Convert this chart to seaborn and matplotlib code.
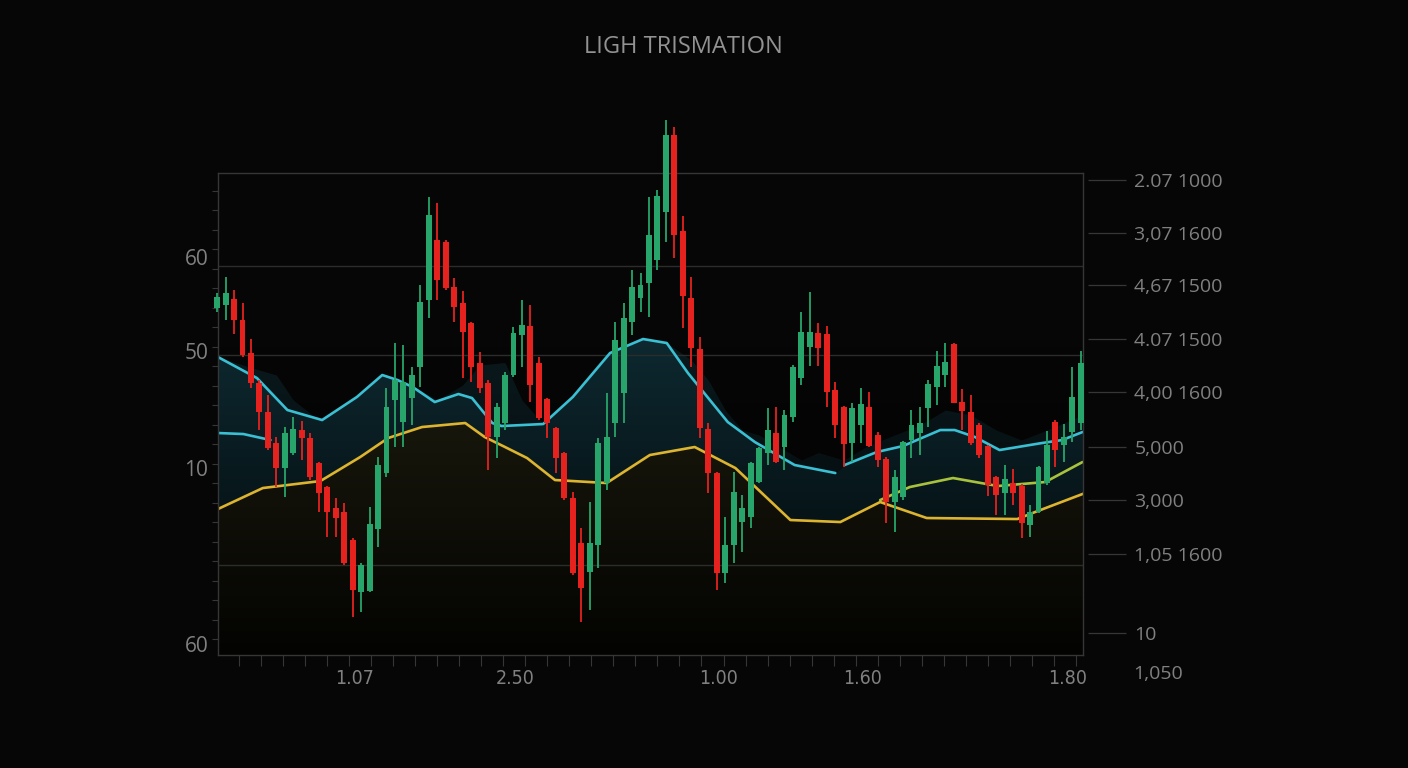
import numpy as np
import pandas as pd
import matplotlib
matplotlib.use("Agg")
import matplotlib.pyplot as plt
import seaborn as sns

# ── candle data (price units) ───────────────────────────────────
opens = [78.4, 79.0, 80.2, 76.0, 69.4, 63.4, 57.6, 51.4, 46.4, 49.4,
         54.0, 52.4, 47.4, 42.6, 38.4, 37.6, 32.0, 21.6, 21.8, 34.2,
         45.4, 60.0, 55.6, 60.4, 66.6, 80.0, 92.0, 91.6, 82.6, 79.4,
         75.4, 67.4, 63.4, 52.6, 55.4, 65.0, 73.0, 74.8, 67.4, 60.2,
         54.4, 49.4, 40.4, 31.4, 25.6, 31.0, 43.4, 55.4, 61.4, 75.6,
         80.4, 83.4, 88.0, 97.6, 113.0, 93.8, 80.4, 70.2, 54.2, 45.4,
         25.4, 31.0, 35.6, 36.6, 43.6, 49.4, 53.4, 50.6, 56.6, 64.4,
         70.6, 73.4, 73.2, 62.0, 58.6, 51.4, 55.0, 58.6, 53.0, 48.2,
         39.6, 40.6, 52.0, 53.4, 58.4, 62.6, 65.0, 71.2, 59.6, 57.6,
         55.0, 50.8, 44.6, 41.4, 43.4, 42.8, 35.0, 37.6, 43.4, 55.6,
         51.0, 53.6, 55.4]
closes = [80.6, 81.4, 76.0, 69.0, 63.4, 57.6, 50.4, 46.4, 53.4, 54.2,
          52.4, 44.6, 41.4, 37.6, 36.4, 27.4, 22.0, 27.0, 35.2, 47.0,
          58.6, 64.0, 63.6, 65.0, 79.6, 97.0, 84.0, 82.4, 78.6, 73.6,
          66.6, 62.4, 52.6, 58.6, 65.0, 73.4, 75.0, 63.0, 56.4, 55.4,
          48.4, 40.4, 25.4, 22.4, 31.4, 51.4, 52.6, 72.0, 76.4, 82.6,
          83.0, 93.0, 100.8, 113.0, 93.0, 80.8, 70.4, 54.4, 45.4, 25.4,
          31.0, 41.6, 38.4, 47.4, 50.4, 54.0, 47.6, 57.0, 66.6, 73.6,
          73.6, 70.4, 61.6, 55.0, 51.2, 58.4, 59.2, 50.8, 48.0, 39.6,
          44.6, 51.6, 55.0, 55.4, 63.2, 66.8, 67.6, 59.4, 57.8, 51.4,
          49.0, 43.0, 41.0, 44.2, 41.4, 35.4, 37.6, 46.6, 51.0, 50.0,
          52.6, 60.6, 67.4]
highs = [81.4, 84.6, 82.0, 79.4, 72.2, 64.0, 61.0, 52.6, 54.6, 56.6,
         55.8, 53.4, 47.6, 42.8, 40.4, 39.4, 32.4, 27.4, 38.6, 48.6,
         62.4, 71.4, 71.0, 66.6, 83.0, 100.6, 99.4, 92.0, 84.4, 81.8,
         75.6, 69.6, 64.0, 59.4, 65.6, 74.6, 80.0, 79.0, 68.6, 60.4,
         54.6, 49.6, 41.6, 34.4, 39.6, 52.4, 61.4, 75.6, 79.4, 86.0,
         85.4, 100.6, 102.0, 116.0, 114.6, 96.8, 84.6, 72.6, 55.4, 45.6,
         36.6, 45.6, 41.0, 47.6, 50.6, 58.4, 58.6, 58.0, 67.0, 77.6,
         81.6, 75.4, 74.8, 63.6, 58.8, 59.4, 62.4, 61.6, 53.6, 48.6,
         46.0, 51.8, 58.0, 58.6, 64.0, 69.8, 71.4, 71.4, 62.2, 61.0,
         55.4, 51.0, 44.8, 47.0, 46.2, 43.2, 39.0, 46.8, 53.8, 56.0,
         55.2, 66.6, 69.8]
lows = [77.6, 76.0, 73.2, 68.6, 62.4, 54.0, 50.0, 42.6, 40.6, 49.0,
        48.0, 44.0, 37.6, 32.6, 32.6, 27.0, 16.6, 17.6, 21.6, 30.6,
        44.6, 50.6, 50.6, 55.0, 62.6, 76.4, 80.0, 82.0, 75.6, 64.4,
        63.6, 61.4, 46.0, 48.4, 54.0, 64.6, 66.6, 59.6, 56.0, 52.4,
        45.4, 40.0, 25.0, 15.6, 18.0, 26.4, 42.0, 52.6, 55.4, 73.0,
        77.6, 76.6, 86.0, 91.6, 88.4, 74.4, 66.6, 52.4, 41.4, 22.0,
        23.4, 27.4, 29.6, 34.4, 43.4, 47.0, 47.4, 46.0, 55.6, 63.0,
        66.8, 66.8, 58.6, 52.4, 46.6, 47.6, 51.4, 50.6, 46.6, 35.4,
        33.6, 40.0, 48.4, 49.0, 54.6, 59.0, 62.6, 59.4, 54.0, 51.0,
        48.4, 40.8, 37.0, 37.0, 39.0, 32.4, 32.6, 37.4, 43.0, 46.6,
        47.6, 51.6, 54.0]

# ── overlay lines (candle index, price) ─────────────────────────
cyan_a_x = [0.1, 4.7, 8.3, 12.4, 16.5, 19.5, 21.3, 23.1, 25.7, 28.5, 30.1, 32.5,
            33.6, 38.5, 42.0, 46.4, 50.3, 53.1, 55.6, 60.3, 63.5, 68.2, 73.0]
cyan_a_y = [68.6, 64.4, 58.0, 56.0, 60.6, 65.0, 64.0, 62.6, 59.6, 61.2, 60.4, 55.4,
            54.8, 55.2, 60.6, 69.4, 72.2, 71.4, 65.4, 55.6, 51.6, 47.0, 45.4]
cyan_b_x = [74.1, 77.9, 81.0, 85.4, 87.1, 89.5, 92.4, 97.4, 99.8, 102.2]
cyan_b_y = [47.0, 49.6, 50.8, 54.0, 54.0, 52.6, 50.0, 51.4, 52.0, 53.6]
cyan_low_x = [0.1, 3.1, 6.3]
cyan_low_y = [53.4, 53.2, 52.0]

yellow_x = [0.1, 5.4, 12.2, 16.9, 20.2, 24.2, 29.3, 31.6, 34.0, 36.6, 39.9, 46.0,
            51.1, 56.4, 61.2, 67.7, 73.6, 78.3, 83.8, 94.5, 96.6, 102.5]
yellow_y = [38.2, 42.4, 43.8, 48.6, 52.4, 54.6, 55.4, 52.6, 50.6, 48.4, 44.0, 43.4,
            49.0, 50.6, 46.4, 36.0, 35.6, 39.6, 36.4, 36.2, 37.6, 41.4]

olive_x = [78.3, 81.8, 86.9, 92.2, 97.8, 102.2]
olive_y = [40.0, 42.6, 44.4, 42.8, 43.6, 47.6]

# soft teal glow above the cyan band
cloud_x = [0.1, 4, 7, 9, 12, 16.5, 19.5, 23, 26, 29, 31, 34, 36, 38.5, 42, 46.4,
           50.3, 53.1, 56, 58, 60, 62, 64, 67, 69, 71, 73, 74, 77, 80, 83, 86,
           89, 92, 95, 98, 102.2]
cloud_y = [68.6, 66.5, 65.0, 60.0, 56.0, 60.6, 65.0, 63.0, 60.0, 63.0, 67.0, 67.5,
           60.0, 55.2, 60.6, 69.4, 72.2, 71.4, 68.0, 64.0, 58.0, 54.0, 53.0, 50.0,
           48.0, 49.5, 48.5, 48.0, 51.0, 53.0, 55.0, 58.0, 57.0, 54.0, 52.0, 54.0,
           57.0]

grid_levels = [86.8, 69.0, 27.0]
left_ticks = [88.6, 69.8, 46.4, 11.2]
left_labels = ["60", "50", "10", "60"]
right_ticks = [104.0, 93.4, 83.0, 72.2, 61.6, 50.6, 40.0, 29.2, 13.4]
right_labels = ["2.07 1000", "3,07 1600", "4,67 1500", "4.07 1500", "4,00 1600",
                "5,000", "3,000", "1,05 1600", "10"]
bottom_ticks = [16.2, 35.2, 59.2, 76.2, 100.4]
bottom_labels = ["1.07", "2.50", "1.00", "1.60", "1.80"]

BG = "#060606"
GREEN = "#27a56a"
RED = "#e5221e"
AXC = "#363636"
TXT = "#808080"

sns.set_theme(style="dark", rc={"axes.facecolor": BG, "figure.facecolor": BG,
                                "axes.edgecolor": AXC, "axes.grid": False})
plt.rcParams["font.family"] = ["Open Sans", "DejaVu Sans"]

fig = plt.figure(figsize=(14.08, 7.68), dpi=100)
ax = fig.add_axes([0.1548, 0.1471, 0.6143, 0.6276])
XMIN, XMAX, YMIN, YMAX = 0.1, 102.24, 9.0, 105.4
ax.set_xlim(XMIN, XMAX)
ax.set_ylim(YMIN, YMAX)

df = pd.DataFrame({"open": opens, "high": highs, "low": lows, "close": closes})
df["idx"] = np.arange(len(df))
df["up"] = df["close"] >= df["open"]

# shaded bands
xs = np.linspace(XMIN, XMAX, 800)
cy = np.interp(xs, cyan_a_x + cyan_b_x, cyan_a_y + cyan_b_y)
yl = np.interp(xs, yellow_x, yellow_y)
cl = np.maximum(np.interp(xs, cloud_x, cloud_y), cy)
ax.fill_between(xs, YMIN, yl, color="#201f10", alpha=0.95, lw=0, zorder=1)
ax.fill_between(xs, yl, cy, color="#0e2b32", alpha=0.95, lw=0, zorder=1)
ax.fill_between(xs, cy, cl, color="#0c2228", alpha=0.7, lw=0, zorder=1)

# fade everything toward the bottom
ramp = np.zeros((256, 1, 4))
ramp[:, 0, 3] = np.clip(np.linspace(0.9, -0.5, 256), 0, 1)
ax.imshow(ramp, extent=(XMIN, XMAX, YMIN, YMAX), origin="lower", aspect="auto",
          zorder=1.5, interpolation="bilinear")

for lvl in grid_levels:
    ax.axhline(lvl, color="#2c2c2c", lw=1.0, zorder=1.6)

# lines
sns.lineplot(x=cyan_a_x, y=cyan_a_y, ax=ax, color="#3bbfd2", lw=1.9, zorder=2.5)
sns.lineplot(x=cyan_b_x, y=cyan_b_y, ax=ax, color="#3bbfd2", lw=1.9, zorder=2.5)
sns.lineplot(x=cyan_low_x, y=cyan_low_y, ax=ax, color="#3bbfd2", lw=1.9, zorder=2.5)
sns.lineplot(x=yellow_x, y=yellow_y, ax=ax, color="#dcb430", lw=1.9, zorder=2.5)
sns.lineplot(x=olive_x, y=olive_y, ax=ax, color="#a9c23e", lw=1.9, zorder=2.5)

# candles
for up, color in [(True, GREEN), (False, RED)]:
    sub = df[df["up"] == up]
    ax.vlines(sub["idx"], sub["low"], sub["high"], color=color, lw=1.3,
              zorder=3, clip_on=False)
    bottom = np.minimum(sub["open"], sub["close"])
    height = np.abs(sub["close"] - sub["open"]).clip(lower=0.6)
    ax.bar(sub["idx"], height, bottom=bottom, width=0.7, color=color,
           edgecolor=color, lw=0, zorder=3.2, clip_on=False)

# spines & ticks
for s in ax.spines.values():
    s.set_color(AXC)
    s.set_linewidth(1.0)
    s.set_visible(True)

ax.set_yticks(left_ticks)
ax.set_yticklabels(left_labels)
ax.set_yticks(np.arange(12.2, 105, 3.9), minor=True)
ax.tick_params(axis="y", which="major", length=0, pad=7, labelsize=15,
               labelcolor=TXT)
ax.tick_params(axis="y", which="minor", length=4, width=0.8, color=AXC,
               direction="out", left=True)

ax.set_xticks(bottom_ticks)
ax.set_xticklabels(bottom_labels, family=["DejaVu Sans"], stretch="condensed")
ax.set_xticks(np.arange(2.6, 102, 2.6), minor=True)
ax.tick_params(axis="x", which="major", length=0, pad=10, labelsize=14,
               labelcolor=TXT)
ax.tick_params(axis="x", which="minor", length=8, width=0.8, color=AXC,
               direction="out", bottom=True)
ax.set_xlabel("")
ax.set_ylabel("")

ax2 = ax.twinx()
ax2.set_ylim(YMIN, YMAX)
ax2.spines["right"].set_position(("outward", 4))
for s in ax2.spines.values():
    s.set_visible(False)
ax2.set_yticks(right_ticks)
ax2.set_yticklabels(right_labels)
ax2.tick_params(axis="y", which="major", length=27, width=0.9, color=AXC,
                pad=6, labelsize=14, labelcolor=TXT, right=True)
ax2.grid(False)

fig.text(1133 / 1408, 1 - 674 / 768, "1,050", color=TXT, fontsize=14,
         ha="left", va="center")
fig.suptitle("LIGH TRISMATION", x=0.485, y=0.955, color="#929292", fontsize=17)

fig.savefig("out.png", dpi=100, facecolor=BG)
print("Saved out.png")
